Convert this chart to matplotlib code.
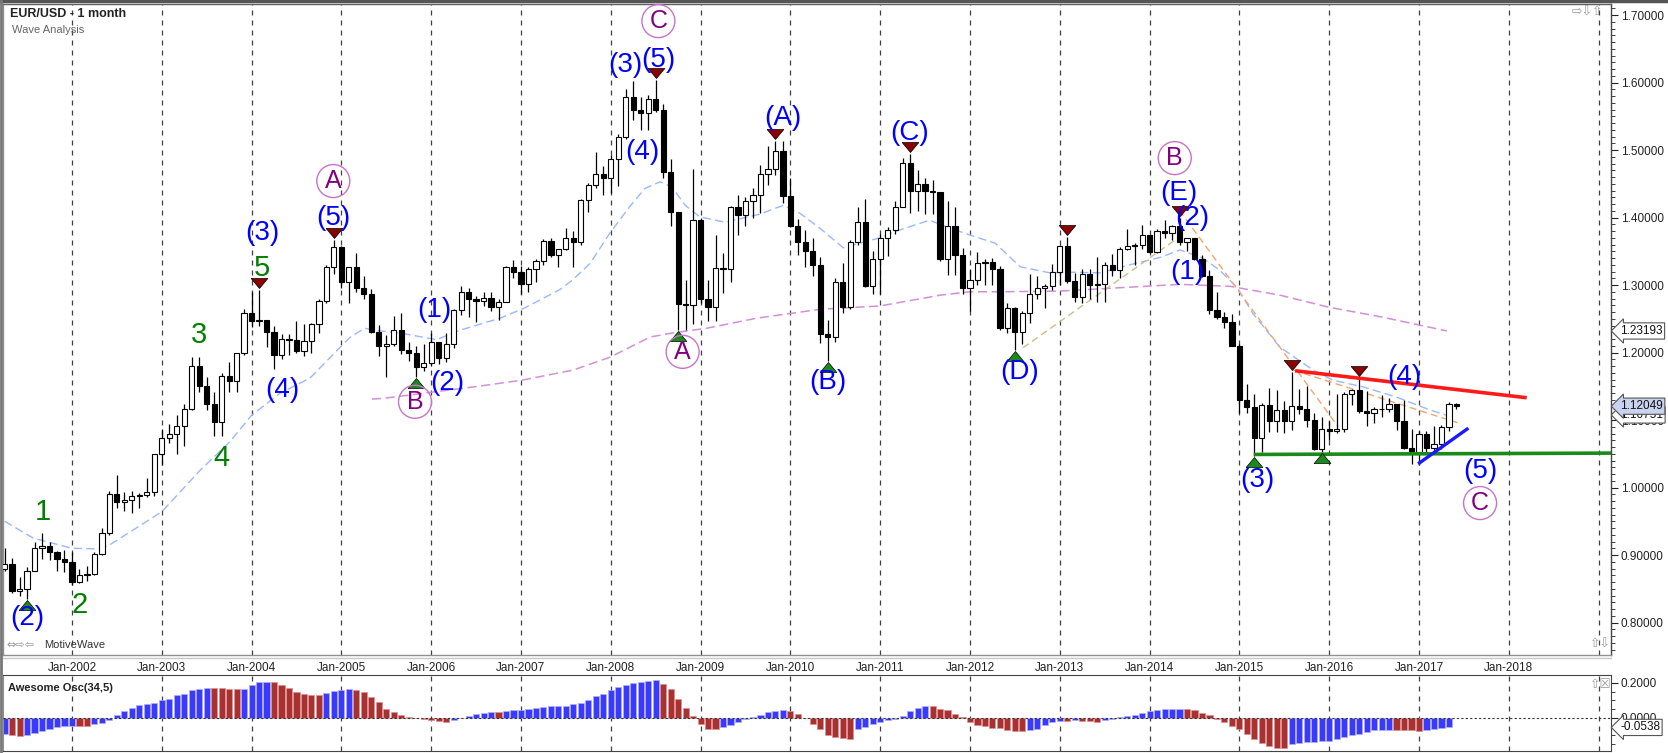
import numpy as np
import matplotlib
matplotlib.use("Agg")
import matplotlib.pyplot as plt
from matplotlib.ticker import MultipleLocator, FormatStrFormatter, FixedLocator
from matplotlib.transforms import offset_copy
from matplotlib.lines import Line2D

plt.rcParams['font.family'] = ['Liberation Sans', 'DejaVu Sans']

W, H = 1668, 753

# EUR/USD monthly candles, Apr-2001 .. Jun-2017 (open = previous close)
first_open = 0.8800
closes = [
    0.8870, 0.8460, 0.8490, 0.8770, 0.9110, 0.9130, 0.9040, 0.8940, 0.8900,
    0.8600, 0.8700, 0.8720, 0.9020, 0.9330, 0.9910, 0.9780, 0.9820, 0.9870, 0.9890, 0.9930, 1.0490,
    1.0740, 1.0790, 1.0910, 1.1170, 1.1800, 1.1500, 1.1230, 1.0970, 1.1650, 1.1580, 1.1990, 1.2590,
    1.2460, 1.2480, 1.2300, 1.1970, 1.2200, 1.2180, 1.2020, 1.2170, 1.2420, 1.2760, 1.3270, 1.3560,
    1.3040, 1.3260, 1.2960, 1.2870, 1.2300, 1.2100, 1.2120, 1.2330, 1.2030, 1.1990, 1.1790, 1.1840,
    1.2150, 1.1920, 1.2120, 1.2630, 1.2900, 1.2790, 1.2760, 1.2810, 1.2680, 1.2750, 1.3260, 1.3200,
    1.3020, 1.3230, 1.3350, 1.3650, 1.3450, 1.3540, 1.3690, 1.3630, 1.4260, 1.4480, 1.4640, 1.4590,
    1.4860, 1.5190, 1.5790, 1.5600, 1.5550, 1.5750, 1.5600, 1.4670, 1.4080, 1.2720, 1.2700, 1.3970,
    1.2800, 1.2670, 1.3250, 1.3240, 1.4150, 1.4030, 1.4250, 1.4330, 1.4640, 1.4720, 1.4990, 1.4320,
    1.3870, 1.3630, 1.3510, 1.3300, 1.2270, 1.2230, 1.3050, 1.2680, 1.3630, 1.3940, 1.2980, 1.3380,
    1.3690, 1.3810, 1.4160, 1.4810, 1.4400, 1.4500, 1.4390, 1.4380, 1.3390, 1.3870, 1.3450, 1.2960,
    1.3080, 1.3320, 1.3340, 1.3240, 1.2370, 1.2660, 1.2300, 1.2580, 1.2860, 1.2960, 1.2990, 1.3190,
    1.3580, 1.3060, 1.2820, 1.3170, 1.3000, 1.3010, 1.3300, 1.3220, 1.3530, 1.3580, 1.3590, 1.3740,
    1.3490, 1.3800, 1.3770, 1.3870, 1.3630, 1.3690, 1.3390, 1.3130, 1.2630, 1.2520, 1.2450, 1.2100,
    1.1290, 1.1190, 1.0730, 1.1220, 1.0990, 1.1150, 1.0980, 1.1210, 1.1170, 1.1000, 1.0570, 1.0860,
    1.0830, 1.0870, 1.1380, 1.1450, 1.1130, 1.1100, 1.1170, 1.1160, 1.1240, 1.0980, 1.0590, 1.0520,
    1.0800, 1.0580, 1.0650, 1.0900, 1.1240, 1.1205,
]
highs = [
    0.9100, 0.8960, 0.8680, 0.8820, 0.9200, 0.9330, 0.9200, 0.9060, 0.9080,
    0.9050, 0.8790, 0.8840, 0.9050, 0.9400, 0.9950, 1.0190, 0.9930, 0.9950, 0.9920, 1.0140, 1.0500,
    1.0870, 1.0940, 1.1080, 1.1240, 1.1930, 1.1930, 1.1640, 1.1410, 1.1690, 1.1860, 1.1990, 1.2640,
    1.2900, 1.2930, 1.2480, 1.2400, 1.2280, 1.2270, 1.2460, 1.2420, 1.2430, 1.2800, 1.3300, 1.3670,
    1.3580, 1.3270, 1.3480, 1.3130, 1.2940, 1.2410, 1.2260, 1.2540, 1.2590, 1.2150, 1.2100, 1.2130,
    1.2290, 1.2150, 1.2290, 1.2640, 1.2980, 1.2950, 1.2840, 1.2900, 1.2890, 1.2800, 1.3280, 1.3370,
    1.3280, 1.3260, 1.3390, 1.3680, 1.3690, 1.3540, 1.3850, 1.3800, 1.4280, 1.4510, 1.4970, 1.4760,
    1.4920, 1.5240, 1.5900, 1.6020, 1.5780, 1.5820, 1.6040, 1.5680, 1.4860, 1.4080, 1.3080, 1.4720,
    1.4000, 1.3080, 1.3740, 1.3480, 1.4170, 1.4340, 1.4300, 1.4440, 1.4780, 1.5060, 1.5140, 1.5140,
    1.4580, 1.3980, 1.3820, 1.3690, 1.3410, 1.2480, 1.3100, 1.3330, 1.3670, 1.4160, 1.4280, 1.3500,
    1.3760, 1.3860, 1.4250, 1.4880, 1.4940, 1.4700, 1.4580, 1.4550, 1.4380, 1.4250, 1.4150, 1.3550,
    1.3240, 1.3490, 1.3390, 1.3400, 1.3280, 1.2740, 1.2670, 1.2620, 1.3170, 1.3140, 1.3010, 1.3310,
    1.3590, 1.3710, 1.3180, 1.3240, 1.3240, 1.3420, 1.3340, 1.3460, 1.3570, 1.3830, 1.3620, 1.3890,
    1.3740, 1.3830, 1.3970, 1.3890, 1.3990, 1.3700, 1.3700, 1.3440, 1.3220, 1.2890, 1.2600, 1.2570,
    1.2120, 1.1530, 1.1390, 1.1250, 1.1470, 1.1440, 1.1280, 1.1710, 1.1460, 1.1500, 1.1100, 1.1050,
    1.0990, 1.1380, 1.1410, 1.1460, 1.1620, 1.1430, 1.1190, 1.1370, 1.1330, 1.1240, 1.1300, 1.0870,
    1.0830, 1.0830, 1.0910, 1.0930, 1.1270, 1.1250,
]
lows = [
    0.8760, 0.8440, 0.8400, 0.8350, 0.8760, 0.8940, 0.8920, 0.8760, 0.8750,
    0.8560, 0.8580, 0.8620, 0.8700, 0.9000, 0.9300, 0.9700, 0.9650, 0.9620, 0.9690, 0.9860, 0.9870,
    1.0340, 1.0660, 1.0500, 1.0620, 1.1150, 1.1410, 1.1150, 1.0760, 1.0770, 1.1410, 1.1420, 1.1960,
    1.2380, 1.2400, 1.2080, 1.1760, 1.1900, 1.1960, 1.2000, 1.1950, 1.2000, 1.2290, 1.2730, 1.3170,
    1.2950, 1.2730, 1.2900, 1.2800, 1.2290, 1.1950, 1.1640, 1.2100, 1.1980, 1.1870, 1.1640, 1.1720,
    1.1800, 1.1830, 1.1860, 1.2060, 1.2560, 1.2520, 1.2450, 1.2690, 1.2620, 1.2480, 1.2750, 1.3100,
    1.2870, 1.2900, 1.3050, 1.3300, 1.3410, 1.3270, 1.3520, 1.3260, 1.3590, 1.4080, 1.4440, 1.4340,
    1.4370, 1.4470, 1.5160, 1.5450, 1.5290, 1.5290, 1.5560, 1.4580, 1.3880, 1.2330, 1.2330, 1.2420,
    1.2740, 1.2460, 1.2460, 1.2880, 1.3040, 1.3740, 1.3880, 1.4000, 1.4060, 1.4480, 1.4630, 1.4220,
    1.3860, 1.3440, 1.3270, 1.3140, 1.2140, 1.1880, 1.2150, 1.2590, 1.2650, 1.3600, 1.2970, 1.2870,
    1.2860, 1.3430, 1.3750, 1.4150, 1.4060, 1.4100, 1.4050, 1.4050, 1.3360, 1.3150, 1.3150, 1.2860,
    1.2620, 1.3000, 1.3000, 1.3000, 1.2330, 1.2290, 1.2040, 1.2130, 1.2430, 1.2800, 1.2660, 1.2920,
    1.3000, 1.3030, 1.2750, 1.2740, 1.2790, 1.2750, 1.2750, 1.3140, 1.3100, 1.3520, 1.3300, 1.3540,
    1.3480, 1.3480, 1.3700, 1.3670, 1.3590, 1.3500, 1.3370, 1.3120, 1.2570, 1.2500, 1.2360, 1.2090,
    1.1100, 1.1100, 1.0460, 1.0520, 1.0820, 1.0820, 1.0810, 1.0850, 1.1090, 1.0900, 1.0560, 1.0520,
    1.0710, 1.0810, 1.0820, 1.1220, 1.1100, 1.0910, 1.0950, 1.1050, 1.1120, 1.0850, 1.0570, 1.0350,
    1.0340, 1.0490, 1.0490, 1.0570, 1.0840, 1.1170,
]

# Awesome Oscillator (34,5), Apr-2001 .. May-2017
ao = [
    -0.090, -0.099, -0.103, -0.099, -0.086, -0.076, -0.065, -0.051, -0.046,
    -0.044, -0.047, -0.048, -0.036, -0.029, -0.013, 0.015, 0.040, 0.059, 0.072, 0.078, 0.086,
    0.101, 0.110, 0.130, 0.139, 0.158, 0.168, 0.171, 0.170, 0.169, 0.166, 0.163, 0.168,
    0.187, 0.205, 0.206, 0.204, 0.190, 0.171, 0.149, 0.135, 0.134, 0.133, 0.145, 0.152,
    0.162, 0.163, 0.158, 0.149, 0.120, 0.091, 0.053, 0.034, 0.015, 0.006, 0.002, -0.004,
    -0.013, -0.019, -0.023, -0.013, 0.002, 0.011, 0.023, 0.029, 0.034, 0.032, 0.040, 0.044,
    0.048, 0.053, 0.057, 0.063, 0.067, 0.069, 0.071, 0.078, 0.086, 0.101, 0.124, 0.139,
    0.158, 0.177, 0.190, 0.200, 0.206, 0.213, 0.215, 0.196, 0.168, 0.110, 0.059, 0.010,
    -0.032, -0.061, -0.062, -0.051, -0.042, -0.023, -0.008, 0.006, 0.019, 0.034, 0.042, 0.046,
    0.040, 0.025, 0.002, -0.032, -0.061, -0.099, -0.109, -0.116, -0.118, -0.061, -0.051, -0.032,
    -0.023, -0.013, -0.008, 0.011, 0.038, 0.059, 0.069, 0.066, 0.053, 0.044, 0.021, 0.006,
    -0.023, -0.038, -0.048, -0.055, -0.056, -0.070, -0.076, -0.077, -0.067, -0.061, -0.042, -0.023,
    -0.017, -0.019, -0.013, -0.018, -0.019, -0.023, -0.013, -0.006, 0.004, 0.010, 0.017, 0.027,
    0.038, 0.044, 0.050, 0.053, 0.054, 0.052, 0.044, 0.029, 0.015, -0.004, -0.023, -0.045,
    -0.061, -0.090, -0.118, -0.143, -0.162, -0.170, -0.171, -0.147, -0.141, -0.137, -0.136, -0.131,
    -0.130, -0.118, -0.109, -0.095, -0.090, -0.080, -0.070, -0.067, -0.066, -0.067, -0.068, -0.070,
    -0.074, -0.067, -0.062, -0.058, -0.0538,
]

# moving averages (year, price)
ma_fast_t = [2001.25, 2001.57, 2002.0, 2002.31, 2002.42, 2003.0, 2003.43, 2003.76, 2004.0, 2004.32,
             2004.65, 2004.87, 2005.1, 2005.26, 2005.37, 2005.65, 2006.06, 2006.32, 2006.77, 2007.04,
             2007.43, 2007.57, 2007.77, 2007.99, 2008.21, 2008.38, 2008.55, 2008.68, 2008.83, 2008.99,
             2009.27, 2009.66, 2009.92, 2010.11, 2010.33, 2010.59, 2010.77, 2011.0, 2011.16, 2011.55,
             2011.72, 2012.0, 2012.28, 2012.56, 2012.89, 2013.11, 2013.45, 2013.78, 2014.12, 2014.34,
             2014.59, 2014.78, 2014.97, 2015.15, 2015.45, 2015.82, 2016.04, 2016.38, 2016.75, 2017.12,
             2017.31]
ma_fast = [0.950, 0.925, 0.910, 0.909, 0.915, 0.964, 1.026, 1.068, 1.107, 1.140,
           1.162, 1.192, 1.223, 1.236, 1.233, 1.229, 1.219, 1.233, 1.251, 1.266,
           1.293, 1.307, 1.332, 1.377, 1.416, 1.443, 1.453, 1.445, 1.418, 1.401,
           1.393, 1.405, 1.418, 1.406, 1.384, 1.355, 1.362, 1.370, 1.379, 1.396,
           1.387, 1.374, 1.362, 1.327, 1.318, 1.319, 1.318, 1.330, 1.341, 1.352,
           1.340, 1.322, 1.297, 1.258, 1.208, 1.174, 1.159, 1.149, 1.134, 1.115,
           1.107]
ma_slow_t = [2005.34, 2005.46, 2006.47, 2007.01, 2007.58, 2007.99, 2008.44, 2008.69, 2009.07, 2009.63,
             2010.33, 2011.0, 2011.67, 2012.0, 2012.33, 2013.0, 2013.67, 2014.34, 2014.9, 2015.45,
             2016.0, 2016.57, 2017.31]
ma_slow = [1.131, 1.132, 1.149, 1.159, 1.174, 1.193, 1.223, 1.229, 1.236, 1.251,
           1.264, 1.269, 1.285, 1.290, 1.290, 1.291, 1.296, 1.301, 1.298, 1.285,
           1.267, 1.253, 1.232]

# pivots (month index from Apr-2001)
pivot_highs = [34, 44, 87, 103, 121, 142, 157, 172, 181]
pivot_lows = [3, 55, 90, 110, 135, 167, 176]

# wave labels (text, year, price)
blue_labels = [("(2)", 2001.50, 0.807), ("(3)", 2004.12, 1.377), ("(5)", 2004.91, 1.399),
               ("(4)", 2004.34, 1.144), ("(1)", 2006.04, 1.263), ("(2)", 2006.18, 1.155),
               ("(3)", 2008.16, 1.626), ("(5)", 2008.53, 1.633), ("(4)", 2008.35, 1.497),
               ("(A)", 2009.92, 1.547), ("(B)", 2010.42, 1.156), ("(C)", 2011.33, 1.525),
               ("(D)", 2012.55, 1.171), ("(E)", 2014.33, 1.436), ("(2)", 2014.48, 1.399),
               ("(1)", 2014.42, 1.319), ("(4)", 2016.84, 1.164), ("(3)", 2015.20, 1.011),
               ("(5)", 2017.68, 1.024)]
green_labels = [("1", 2001.67, 0.964), ("2", 2002.08, 0.826), ("3", 2003.41, 1.226),
                ("4", 2003.66, 1.044), ("5", 2004.12, 1.325)]
circle_labels = [("A", 2004.91, 1.454), ("B", 2005.82, 1.127), ("C", 2008.53, 1.691),
                 ("A", 2008.80, 1.201), ("B", 2014.28, 1.488), ("C", 2017.68, 0.977)]

# trend lines ((x0, x1), (y0, y1), colour, width, style)
trend_lines = [
    ((2015.62, 2018.20), (1.173, 1.133), '#ff1a1a', 2.6, '-'),
    ((2015.16, 2019.14), (1.049, 1.051), '#1a8a1a', 2.6, '-'),
    ((2016.99, 2017.55), (1.035, 1.088), '#1a1aff', 2.4, '-'),
    ((2014.33, 2016.10), (1.411, 1.090), '#f4a66a', 1.0, (0, (5, 3))),
    ((2015.60, 2017.43), (1.174, 1.096), '#f4a66a', 1.0, (0, (5, 3))),
    ((2012.59, 2014.36), (1.207, 1.374), '#c8c088', 1.0, (0, (5, 3))),
]

years = list(range(2002, 2020))
year_labels = ["Jan-%d" % y for y in range(2002, 2019)] + [""]

# ---------------------------------------------------------------------------
n = len(closes)
opens = [first_open] + closes[:-1]
t = 2001.25 + np.arange(n) / 12.0
t_ao = t[:len(ao)]

fig = plt.figure(figsize=(W / 100, H / 100), dpi=100)
fig.patch.set_facecolor('white')

px = lambda x: x / W
py = lambda y: 1 - y / H

ax = fig.add_axes([px(3), py(655), px(1608), (655 - 4) / H])
ax2 = fig.add_axes([px(3), py(751), px(1608), (751 - 675) / H])

xlim = (2001.232, 2019.138)
ax.set_xlim(*xlim)
ax.set_ylim(0.7519, 1.7163)
ax2.set_xlim(*xlim)
ax2.set_ylim(-0.1886, 0.2457)

grid_kw = dict(color='#404040', lw=0.9, ls=(0, (4, 4)), zorder=0.5)
for yr in years:
    ax.axvline(yr, **grid_kw)
    ax2.axvline(yr, **grid_kw)

# moving averages
ax.plot(ma_fast_t, ma_fast, color='#9ab8ff', lw=1.0, ls=(0, (6, 3)), zorder=1)
ax.plot(ma_slow_t, ma_slow, color='#d38fd8', lw=1.1, ls=(0, (6, 3)), zorder=1)

for (xs, ys, col, lw, ls) in trend_lines:
    ax.plot(xs, ys, color=col, lw=lw, ls=ls, zorder=4 if ls == '-' else 1.5,
            solid_capstyle='butt')

# candles
o = np.array(opens)
c = np.array(closes)
ax.vlines(t, lows, highs, color='black', lw=0.9, zorder=2)
body_lo = np.minimum(o, c)
body_h = np.abs(c - o)
body_col = ['white' if ci >= oi else 'black' for oi, ci in zip(o, c)]
ax.bar(t, body_h, bottom=body_lo, width=0.058, color=body_col, edgecolor='black',
       lw=0.8, zorder=3)

# pivot markers
down_tri = [(-1, 0.6), (1, 0.6), (0, -0.6), (-1, 0.6)]
up_tri = [(-1, -0.6), (1, -0.6), (0, 0.6), (-1, -0.6)]
tr_up = offset_copy(ax.transData, fig=fig, y=7, units='dots')
tr_dn = offset_copy(ax.transData, fig=fig, y=-6, units='dots')
ax.plot(t[pivot_highs], np.array(highs)[pivot_highs], ls='none', marker=down_tri,
        ms=12, mfc='#8b0000', mec='black', mew=0.5, transform=tr_up, zorder=5)
ax.plot(t[pivot_lows], np.array(lows)[pivot_lows], ls='none', marker=up_tri,
        ms=12, mfc='#1a8a1a', mec='black', mew=0.5, transform=tr_dn, zorder=5)

for txt, x, y in blue_labels:
    ax.text(x, y, txt, color='#0000ff', fontsize=20, ha='center', va='center', zorder=6)
for txt, x, y in green_labels:
    ax.text(x, y, txt, color='#008000', fontsize=21, ha='center', va='center', zorder=6)
for txt, x, y in circle_labels:
    ax.text(x, y, txt, color='#800080', fontsize=18, ha='center', va='center', zorder=6,
            bbox=dict(boxstyle='circle,pad=0.18', fc='none', ec='#c873c8', lw=1.0))

# price axis
ax.yaxis.tick_right()
ax.yaxis.set_major_locator(FixedLocator([0.8 + 0.1 * k for k in range(10)]))
ax.yaxis.set_major_formatter(FormatStrFormatter('%.5f'))
ax.yaxis.set_minor_locator(MultipleLocator(0.01))
ax.tick_params(axis='y', which='major', length=5, width=0.8, labelsize=8.5, colors='#222', pad=2)
ax.tick_params(axis='y', which='minor', length=3, width=0.6, colors='#222')
ax.set_xticks(years)
ax.set_xticklabels(year_labels)
ax.tick_params(axis='x', length=0, labelsize=8.5, pad=5, colors='#222')
for side, col in [('left', '#909090'), ('top', '#606060'), ('right', '#444444'), ('bottom', '#909090')]:
    ax.spines[side].set_color(col)
    ax.spines[side].set_linewidth(1.0)

# oscillator
ao_col = []
for i, v in enumerate(ao):
    if i == 0 or v >= ao[i - 1]:
        ao_col.append('#3a3aff')
    else:
        ao_col.append('#a83232')
ao_edge = ['#b0b0ff' if col == '#3a3aff' else '#e09090' for col in ao_col]
ax2.bar(t_ao, ao, width=0.068, color=ao_col, edgecolor=ao_edge, lw=0.5, zorder=2)
ax2.axhline(0, color='#333333', lw=0.8, ls=(0, (2, 2)), zorder=3)
ax2.yaxis.tick_right()
ax2.yaxis.set_major_locator(FixedLocator([0.0, 0.2]))
ax2.yaxis.set_major_formatter(FormatStrFormatter('%.4f'))
ax2.yaxis.set_minor_locator(MultipleLocator(0.05))
ax2.tick_params(axis='y', which='major', length=5, width=0.8, labelsize=8.5, colors='#222', pad=2)
ax2.tick_params(axis='y', which='minor', length=3, width=0.6, colors='#222')
ax2.set_xticks([])
for side, col in [('left', '#909090'), ('top', '#444444'), ('right', '#444444'), ('bottom', '#444444')]:
    ax2.spines[side].set_color(col)

# value tags on the right axis
def tag(axis, y, txt, fc, z):
    axis.text(1.0 + 9 / 1608, y, txt, transform=axis.get_yaxis_transform(), ha='left',
              va='center', fontsize=8.5, color='#111', zorder=z, clip_on=False,
              bbox=dict(boxstyle='larrow,pad=0.18', fc=fc, ec='#555555', lw=0.8))

tag(ax, 1.23193, '1.23193', 'white', 7)
tag(ax, 1.10751, '1.10751', 'white', 7)
tag(ax, 1.12049, '1.12049', '#c9d2ee', 8)
tag(ax2, -0.0538, '-0.0538', 'white', 7)

# header / footer texts and icons
fig.text(px(10), py(14), 'EUR/USD - 1 month', fontsize=9, fontweight='bold', color='#222',
         va='center', ha='left')
fig.text(px(12), py(30), 'Wave Analysis', fontsize=8, color='#666', va='center', ha='left')
fig.text(px(8), py(688), 'Awesome Osc(34,5)', fontsize=8, fontweight='bold', color='#222',
         va='center', ha='left')
fig.text(px(6), py(645), '\u21d4\u21e8\u21e6', fontsize=8, color='#999',
         va='center', ha='left', family=['DejaVu Sans'])
fig.text(px(44), py(645), 'MotiveWave', fontsize=8, color='#333', va='center', ha='left')
fig.text(px(1572), py(12), '\u21e8\u21e9\u21e7', fontsize=9, color='#999',
         va='center', ha='left', family=['DejaVu Sans'])
fig.text(px(1590), py(644), '\u21e7\u21e9', fontsize=9, color='#999',
         va='center', ha='left', family=['DejaVu Sans'])
fig.text(px(1590), py(684), '\u21e7\u2612', fontsize=9, color='#999',
         va='center', ha='left', family=['DejaVu Sans'])

# frame lines
fig.add_artist(Line2D([0, 1], [py(1), py(1)], color='#555555', lw=2.5))
fig.add_artist(Line2D([px(3), px(1611)], [py(658), py(658)], color='#c8c8c8', lw=1.0))
fig.add_artist(Line2D([px(1), px(1)], [0, 1], color='#777777', lw=2))

fig.savefig('out.png', dpi=100, facecolor='white')
